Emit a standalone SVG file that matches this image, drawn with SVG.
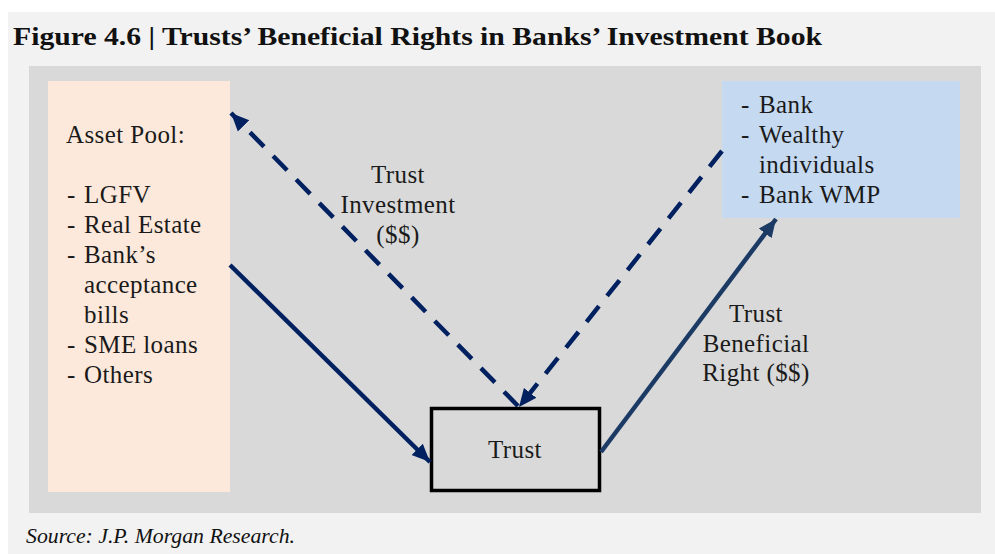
<svg xmlns="http://www.w3.org/2000/svg" width="995" height="554" viewBox="0 0 995 554">
<style>
.t{font-family:"Liberation Serif","Times New Roman",serif;font-size:25px;letter-spacing:0.4px;fill:#1a1a1a}
.c{text-anchor:middle}
.navy{stroke:#002060;stroke-width:4.5;fill:none}
.dash{stroke-dasharray:20 13}
</style>
<defs>
<marker id="ah" markerUnits="userSpaceOnUse" markerWidth="20" markerHeight="20" viewBox="0 0 20 20" refX="18" refY="10" orient="auto">
<path d="M0,2 L18,10 L0,18 Z" fill="#002060"/>
</marker>
<marker id="ah2" markerUnits="userSpaceOnUse" markerWidth="20" markerHeight="20" viewBox="0 0 20 20" refX="18" refY="10" orient="auto">
<path d="M0,2 L18,10 L0,18 Z" fill="#1b3a64"/>
</marker>
</defs>
<rect x="0" y="0" width="995" height="554" fill="#ffffff"/>
<rect x="8" y="12" width="987" height="542" fill="#f2f2f2"/>
<text x="13" y="45" font-family="'Liberation Serif',serif" font-weight="bold" font-size="26" fill="#111" textLength="809" lengthAdjust="spacingAndGlyphs">Figure 4.6 | Trusts’ Beneficial Rights in Banks’ Investment Book</text>
<rect x="29" y="66" width="952" height="447" fill="#d9d9d9"/>
<g id="asset-pool">
<rect x="48" y="81" width="182" height="411" fill="#fce9db"/>
<text class="t" x="66" y="143">Asset Pool:</text>
<text class="t" x="67" y="203">-</text><text class="t" x="84" y="203">LGFV</text>
<text class="t" x="67" y="233">-</text><text class="t" x="84" y="233">Real Estate</text>
<text class="t" x="67" y="263">-</text><text class="t" x="84" y="263">Bank’s</text>
<text class="t" x="84" y="293">acceptance</text>
<text class="t" x="84" y="323">bills</text>
<text class="t" x="67" y="353">-</text><text class="t" x="84" y="353">SME loans</text>
<text class="t" x="67" y="383">-</text><text class="t" x="84" y="383">Others</text>
</g>
<g id="investors">
<rect x="722" y="81" width="238" height="137" fill="#c5d9f1"/>
<text class="t" x="741" y="113">-</text><text class="t" x="759" y="113">Bank</text>
<text class="t" x="741" y="143">-</text><text class="t" x="759" y="143">Wealthy</text>
<text class="t" x="759" y="173">individuals</text>
<text class="t" x="741" y="203">-</text><text class="t" x="759" y="203">Bank WMP</text>
</g>
<g id="trust">
<rect x="431.5" y="408.5" width="168" height="82" fill="none" stroke="#000" stroke-width="3.5"/>
<text class="t c" x="515" y="458">Trust</text>
</g>
<g id="connectors">
<line class="navy dash" x1="518" y1="406" x2="231" y2="113" marker-end="url(#ah)"/>
<line class="navy dash" x1="722" y1="151" x2="519" y2="407" marker-end="url(#ah)"/>
<line class="navy" x1="230" y1="265" x2="430" y2="462" marker-end="url(#ah)"/>
<line x1="601" y1="452" x2="776" y2="219" stroke="#1b3a64" stroke-width="4.5" marker-end="url(#ah2)"/>
</g>
<g id="labels">
<text class="t c" x="398" y="183">Trust</text>
<text class="t c" x="398" y="213">Investment</text>
<text class="t c" x="398" y="243">($$)</text>
<text class="t c" x="756" y="322">Trust</text>
<text class="t c" x="756" y="352">Beneficial</text>
<text class="t c" x="756" y="381">Right ($$)</text>
</g>
<text x="26" y="543" font-family="'Liberation Serif',serif" font-style="italic" font-size="21" fill="#111" textLength="269" lengthAdjust="spacingAndGlyphs">Source: J.P. Morgan Research.</text>
</svg>
